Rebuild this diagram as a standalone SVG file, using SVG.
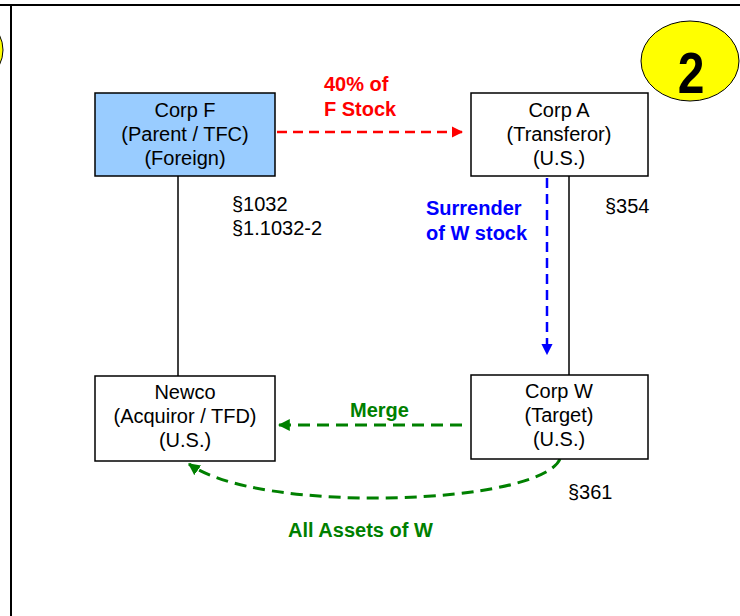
<svg xmlns="http://www.w3.org/2000/svg" width="740" height="616" viewBox="0 0 740 616">
<defs>
<style>
.box{fill:#fff;stroke:#000;stroke-width:1.5}
.t{font-family:"Liberation Sans",Arial,sans-serif;font-size:20px;fill:#000}
.c{text-anchor:middle}
.b{font-weight:bold}
.line{stroke:#000;stroke-width:1.5;fill:none}
</style>
<marker id="ar" viewBox="0 0 10 10" refX="9" refY="5" markerWidth="4.5" markerHeight="4.5" orient="auto" markerUnits="strokeWidth"><path d="M0,0 L10,5 L0,10 z" fill="#FF0000"/></marker>
<marker id="ab" viewBox="0 0 10 10" refX="9" refY="5" markerWidth="4.5" markerHeight="4.5" orient="auto" markerUnits="strokeWidth"><path d="M0,0 L10,5 L0,10 z" fill="#0000FF"/></marker>
<marker id="ag" viewBox="0 0 10 10" refX="9" refY="5" markerWidth="4" markerHeight="4" orient="auto" markerUnits="strokeWidth"><path d="M0,0 L10,5 L0,10 z" fill="#008000"/></marker>
</defs>
<rect width="740" height="616" fill="#fff"/>
<line x1="0" y1="5" x2="740" y2="5" stroke="#000" stroke-width="2"/>
<line x1="11" y1="5" x2="11" y2="616" stroke="#000" stroke-width="2"/>
<ellipse cx="-46" cy="50" rx="49" ry="40" fill="#FFFF00" stroke="#000" stroke-width="1"/>
<g id="badge">
<ellipse cx="690" cy="61" rx="49" ry="40" fill="#FFFF00" stroke="#000" stroke-width="1"/>
<text class="t b c" font-size="48" style="font-size:48px" transform="translate(691,93) scale(1,1.18)">2</text>
</g>
<g id="connectors">
<line class="line" x1="178" y1="176" x2="178" y2="376"/>
<line class="line" x1="569" y1="176" x2="569" y2="375"/>
<line x1="277" y1="132" x2="462" y2="132" stroke="#FF0000" stroke-width="2.5" stroke-dasharray="10,6" marker-end="url(#ar)"/>
<line x1="547" y1="178" x2="547" y2="354" stroke="#0000FF" stroke-width="2.5" stroke-dasharray="10,6" marker-end="url(#ab)"/>
<line x1="462" y1="425" x2="279" y2="425" stroke="#008000" stroke-width="3" stroke-dasharray="12,7" marker-end="url(#ag)"/>
<path d="M560,459 C540,505 260,515 189,464" fill="none" stroke="#008000" stroke-width="3" stroke-dasharray="12,7" marker-end="url(#ag)"/>
</g>
<g id="corpF">
<rect x="95" y="93" width="180" height="83" fill="#99CCFF" stroke="#000" stroke-width="1.5"/>
<text class="t c" x="185" y="117">Corp F</text>
<text class="t c" x="185" y="141">(Parent / TFC)</text>
<text class="t c" x="185" y="165">(Foreign)</text>
</g>
<g id="corpA">
<rect class="box" x="471" y="93" width="177" height="83"/>
<text class="t c" x="559" y="117">Corp A</text>
<text class="t c" x="559" y="141">(Transferor)</text>
<text class="t c" x="559" y="165">(U.S.)</text>
</g>
<g id="newco">
<rect class="box" x="95" y="376" width="180" height="85"/>
<text class="t c" x="185" y="399">Newco</text>
<text class="t c" x="185" y="423">(Acquiror / TFD)</text>
<text class="t c" x="185" y="447">(U.S.)</text>
</g>
<g id="corpW">
<rect class="box" x="471" y="375" width="177" height="84"/>
<text class="t c" x="559" y="398">Corp W</text>
<text class="t c" x="559" y="422">(Target)</text>
<text class="t c" x="559" y="446">(U.S.)</text>
</g>
<g id="labels">
<text class="t b" x="324" y="91" fill="#FF0000" style="fill:#FF0000">40% of</text>
<text class="t b" x="324" y="116" style="fill:#FF0000">F Stock</text>
<text class="t b" x="426" y="215" style="fill:#0000FF">Surrender</text>
<text class="t b" x="426" y="240" style="fill:#0000FF">of W stock</text>
<text class="t" x="605" y="213">§354</text>
<text class="t" x="232" y="211">§1032</text>
<text class="t" x="232" y="235">§1.1032-2</text>
<text class="t b" x="350" y="417" style="fill:#008000">Merge</text>
<text class="t" x="568" y="499">§361</text>
<text class="t b" x="288" y="537" style="fill:#008000">All Assets of W</text>
</g>
</svg>
